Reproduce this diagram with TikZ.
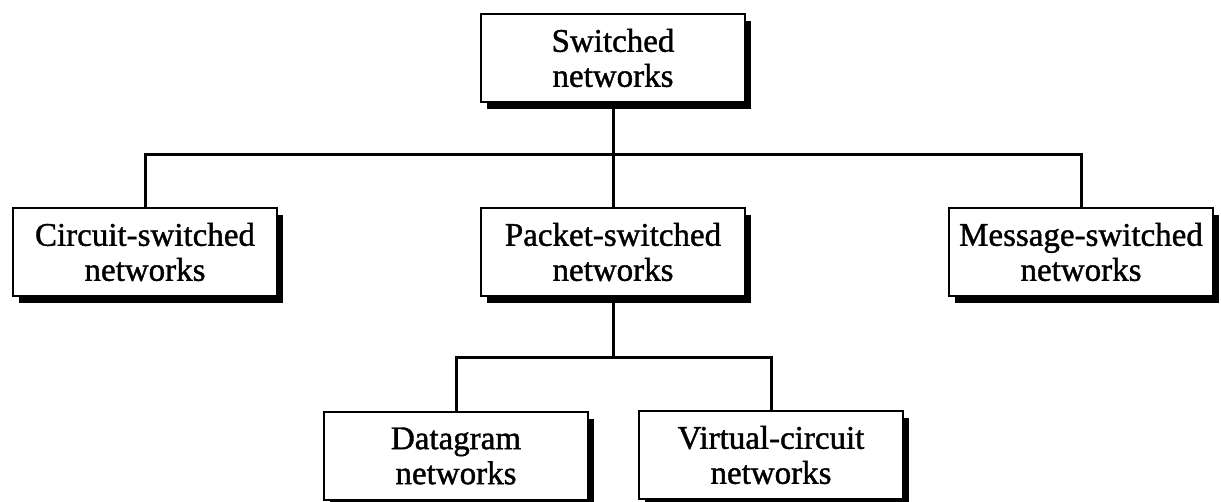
\documentclass[tikz,border=0pt]{standalone}
\usepackage{fontspec}
\setmainfont{Liberation Serif}[FakeBold=1.2]
\usetikzlibrary{shadows}

\begin{document}
\begin{tikzpicture}[x=1pt,y=1pt,
  netbox/.style={draw=black, line width=2.6pt, fill=white,
    minimum width=264pt, minimum height=88pt, inner sep=0pt,
    align=center, font=\fontsize{33}{35}\selectfont,
    drop shadow={shadow xshift=6pt, shadow yshift=-7pt, fill=black, opacity=1}},
  link/.style={draw=black, line width=3pt}]
  \useasboundingbox (0,0) rectangle (1221,502);
  \clip (0,0) rectangle (1221,502);

  % tree levels
  \node[netbox] (top)      at (613,444)  {Switched\\networks};
  \node[netbox] (circuit)  at (145,250)  {Circuit-switched\\networks};
  \node[netbox] (packet)   at (613,250)  {Packet-switched\\networks};
  \node[netbox] (message)  at (1081,250) {Message-switched\\networks};
  \node[netbox] (datagram) at (456,46)   {Datagram\\networks};
  \node[netbox] (virtual)  at (771,47)   {Virtual-circuit\\networks};

  % junctions of the horizontal buses
  \coordinate (busA) at (613,347);
  \coordinate (busB) at (613,144);

  \draw[link] (top.south) -- (packet.north);
  \draw[link] (circuit.north) |- (busA) -| (message.north);
  \draw[link] (packet.south) -- (busB);
  \draw[link] (datagram.north) |- (busB) -| (virtual.north);
\end{tikzpicture}
\end{document}
